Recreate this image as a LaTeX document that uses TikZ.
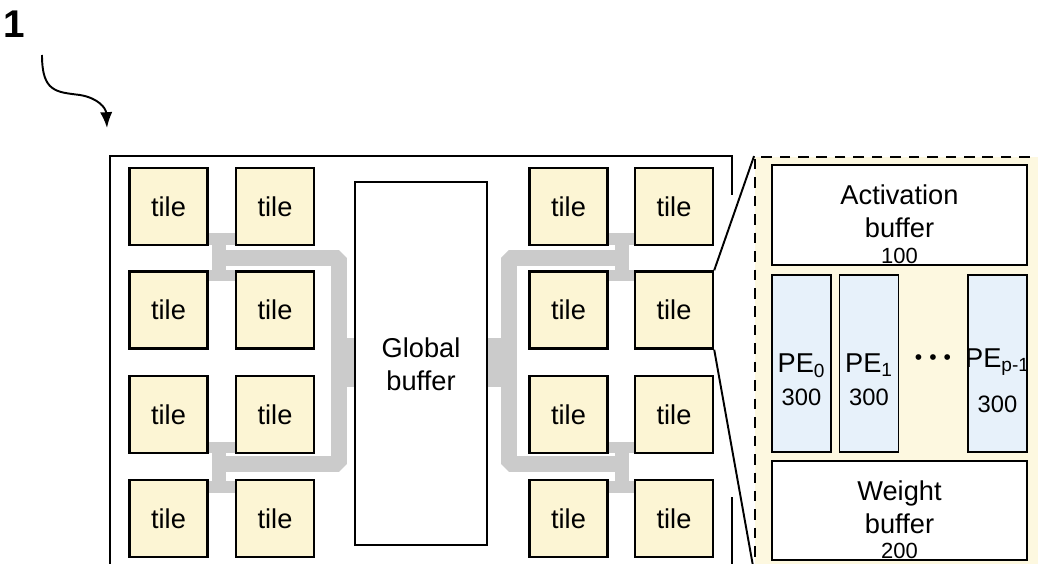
\documentclass[tikz,border=0pt]{standalone}
\usepackage{fontspec}
\setmainfont{Liberation Sans}
\usetikzlibrary{arrows.meta}
\definecolor{tilefill}{RGB}{252,245,212}
\definecolor{zoomfill}{RGB}{253,248,224}
\definecolor{pefill}{RGB}{231,241,250}
\definecolor{busgray}{RGB}{203,203,203}
\begin{document}
\begin{tikzpicture}[x=0.02cm,y=-0.02cm,
  every node/.style={font=\fontsize{15.5}{19}\selectfont,align=center,inner sep=0pt},
  tile/.style={draw,line width=1.4pt,fill=tilefill,minimum width=1.56cm,minimum height=1.54cm},
  bufbox/.style={draw,line width=1.1pt,fill=white},
  pebox/.style={draw,line width=1.1pt,fill=pefill,minimum width=1.18cm,minimum height=3.54cm},
  bus/.style={draw=busgray,line width=9.5pt,line join=bevel},
  arm/.style={draw=busgray,line width=6.5pt},
  num/.style={font=\fontsize{12.5}{13}\selectfont}]
\useasboundingbox (0,0) rectangle (1038,564);
\clip (0,0) rectangle (1038,564);
% figure number and its pointer
\node[font=\bfseries\fontsize{22}{22}\selectfont] (fig) at (14,24) {1};
\coordinate (ptrs) at (42,55);
\coordinate (ptre) at (107,128);
\draw[line width=1.1pt,-{Latex[length=9pt,width=7pt]}] (ptrs) .. controls (42,92) and (56,92) .. (80,95) .. controls (98,98) and (106,108) .. (ptre);
% gray buses (behind the tiles)
\draw[bus] (222,258) -- (339,258) -- (339,464) -- (222,464);
\draw[bus] (621,258) -- (509,258) -- (509,464) -- (621,464);
\fill[busgray] (339,338) rectangle (354,387);
\fill[busgray] (488,338) rectangle (509,387);
\foreach \bx in {219,622}{
  \draw[arm,line width=8.5pt] (\bx,233) -- (\bx,281);
  \draw[arm,line width=8.5pt] (\bx,442) -- (\bx,493);
}
\foreach \ax/\bx in {208/237,606/636}{
  \draw[arm] (\ax,239) -- (\bx,239);
  \draw[arm] (\ax,275.5) -- (\bx,275.5);
  \draw[arm] (\ax,447.5) -- (\bx,447.5);
  \draw[arm] (\ax,487) -- (\bx,487);
}
% chip frame
\draw[line width=1.1pt] (732,195) -- (732,156) -- (110,156) -- (110,580);
\draw[line width=1.1pt] (732,497) -- (732,580);
% tiles
\foreach \c/\x in {1/168.5,2/275,3/568.5,4/674}
  \foreach \r/\y in {1/206.5,2/310,3/414.5,4/518.5}
    \node[tile] (t\r\c) at (\x,\y) {tile};
\node[bufbox,minimum width=2.64cm,minimum height=7.26cm] (gb) at (421,363.5) {};
\node at (421,364) {Global\\buffer};
% magnified tile
\node[draw,dashed,dash pattern=on 6pt off 4.5pt,line width=1.1pt,fill=zoomfill,minimum width=5.9cm,minimum height=8.46cm] (zoom) at (902.5,368.5) {};
\coordinate (zb) at (753,566);
\draw[line width=1.1pt] (t24.north east) -- (zoom.north west);
\draw[line width=1.1pt] (t24.south east) -- (zb);
\node[bufbox,minimum width=5.1cm,minimum height=2.0cm] (act) at (899.5,215) {};
\node at (899.5,211) {Activation\\buffer};
\node[num] at (899.5,256) {100};
\node[pebox] (pe0) at (801.5,363.5) {};
\node[pebox] (pe1) at (869,363.5) {};
\node[pebox] (pep) at (997.5,363.5) {};
\node at (801.5,380) {PE\textsubscript{0}\\{\fontsize{13.5}{14}\selectfont 300}};
\node at (869,380) {PE\textsubscript{1}\\{\fontsize{13.5}{14}\selectfont 300}};
\node at (997.5,362) {PE\textsubscript{p-1}};
\node[num,font=\fontsize{13.5}{14}\selectfont] at (997.5,404) {300};
\node[font=\fontsize{12}{12}\selectfont] (dots) at (933,360) {•\hspace{4pt}•\hspace{4pt}•};
\node[bufbox,minimum width=5.1cm,minimum height=1.98cm] (wgt) at (899.5,510.5) {};
\node at (899.5,507) {Weight\\buffer};
\node[num] at (899.5,551) {200};
\end{tikzpicture}
\end{document}
